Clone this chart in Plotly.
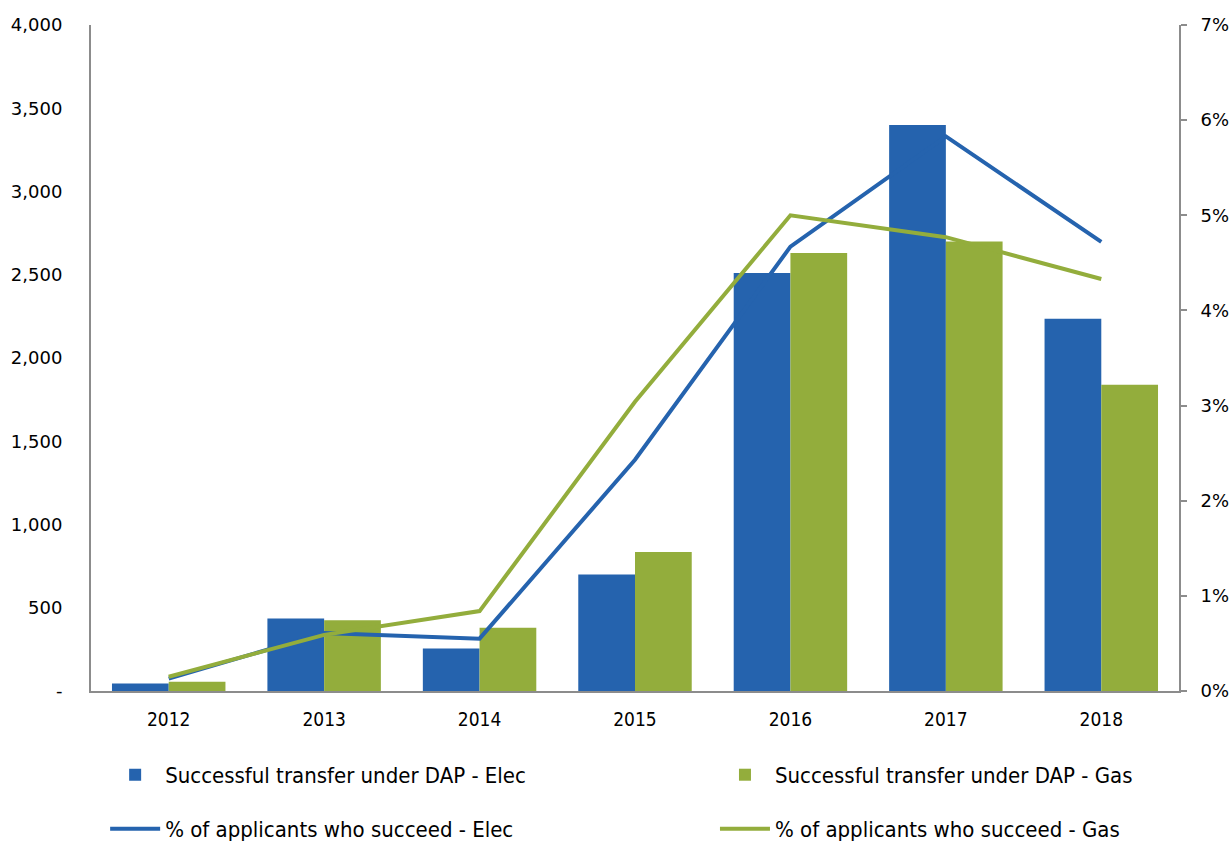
import plotly.graph_objects as go

years = ["2012", "2013", "2014", "2015", "2016", "2017", "2018"]
transfers_elec = [45, 435, 255, 700, 2510, 3400, 2235]
transfers_gas = [55, 425, 380, 835, 2630, 2700, 1840]
pct_elec = [0.0013, 0.0061, 0.0055, 0.0243, 0.0467, 0.0583, 0.0472]
pct_gas = [0.0015, 0.0059, 0.0084, 0.0304, 0.0500, 0.0477, 0.0433]

left_tickvals = [0, 500, 1000, 1500, 2000, 2500, 3000, 3500, 4000]
left_ticktext = ["-", "500", "1,000", "1,500", "2,000", "2,500", "3,000", "3,500", "4,000"]
right_tickvals = [0, 0.01, 0.02, 0.03, 0.04, 0.05, 0.06, 0.07]
right_ticktext = ["0%", "1%", "2%", "3%", "4%", "5%", "6%", "7%"]

blue = "#2563ae"
green = "#93ad3c"
axis_grey = "#8c8c8c"

fig = go.Figure()
fig.add_trace(go.Bar(x=years, y=transfers_elec, name="Successful transfer under DAP - Elec",
                     marker=dict(color=blue, line=dict(width=0)), legend="legend"))
fig.add_trace(go.Bar(x=years, y=transfers_gas, name="Successful transfer under DAP - Gas",
                     marker=dict(color=green, line=dict(width=0)), legend="legend2"))
fig.add_trace(go.Scatter(x=years, y=pct_elec, name="% of applicants who succeed - Elec",
                         mode="lines", line=dict(color=blue, width=4), yaxis="y2", legend="legend3"))
fig.add_trace(go.Scatter(x=years, y=pct_gas, name="% of applicants who succeed - Gas",
                         mode="lines", line=dict(color=green, width=4), yaxis="y2", legend="legend4"))

legend_font = dict(family="DejaVu Sans Condensed, sans-serif", size=22, color="#000000")


def leg(x, y):
    return dict(orientation="h", x=x, xanchor="left", y=y, yanchor="middle",
                font=legend_font, bgcolor="rgba(0,0,0,0)", itemwidth=50)


col1, col2 = 0.013, 0.5735
row1, row2 = -0.126, -0.207

fig.update_layout(
    width=1231, height=842,
    margin=dict(l=91, r=52, t=25, b=151, autoexpand=False),
    paper_bgcolor="white", plot_bgcolor="white",
    barmode="group", bargap=0.27, bargroupgap=0,
    showlegend=True,
    legend=leg(col1, row1),
    legend2=leg(col2, row1),
    legend3=leg(col1, row2),
    legend4=leg(col2, row2),
    xaxis=dict(type="category", showline=True, linecolor=axis_grey, linewidth=2,
               ticks="", showgrid=False, zeroline=False, ticklabelstandoff=10,
               tickfont=dict(family="DejaVu Sans Condensed, sans-serif", size=19, color="#000000")),
    yaxis=dict(range=[0, 4000], tickvals=left_tickvals, ticktext=left_ticktext,
               showline=True, linecolor=axis_grey, linewidth=2, ticks="",
               showgrid=False, zeroline=False, ticklabelstandoff=23,
               tickfont=dict(family="DejaVu Sans, sans-serif", size=18, color="#000000")),
    yaxis2=dict(range=[0, 0.07], tickvals=right_tickvals, ticktext=right_ticktext,
                overlaying="y", side="right", showline=True, linecolor=axis_grey, linewidth=2,
                ticks="outside", ticklen=6, tickcolor=axis_grey, tickwidth=2,
                showgrid=False, zeroline=False, ticklabelstandoff=10,
                tickfont=dict(family="DejaVu Sans, sans-serif", size=18, color="#000000")),
)

fig.write_html("out.html")
